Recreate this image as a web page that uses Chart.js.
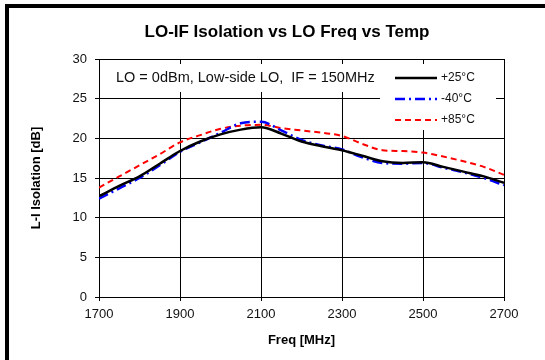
<!DOCTYPE html>
<html>
<head>
<meta charset="utf-8">
<script src="https://cdn.jsdelivr.net/npm/chart.js@4.4.1/dist/chart.umd.min.js"></script>
<style>
  html, body { margin: 0; padding: 0; background: #fff; }
  #wrap { width: 545px; height: 360px; }
</style>
</head>
<body>
<div id="wrap"><canvas id="isoChart" width="545" height="360"></canvas></div>
<script>
// LO-IF isolation readings
const freqs = [1700, 1750, 1800, 1850, 1900, 1950, 2000, 2050, 2100, 2150, 2200,
               2250, 2300, 2350, 2400, 2450, 2500, 2550, 2600, 2650, 2700];
const iso25 = [12.7, 14.0, 15.2, 16.8, 18.4, 19.6, 20.5, 21.1, 21.4, 20.6, 19.6,
               19.0, 18.5, 17.8, 17.1, 16.9, 17.0, 16.4, 15.8, 15.2, 14.4];
const isoM40 = [12.4, 13.7, 15.0, 16.6, 18.3, 19.5, 20.7, 21.9, 22.1, 21.0, 19.8,
                19.1, 18.6, 17.6, 16.9, 16.8, 16.9, 16.3, 15.7, 15.0, 14.1];
const iso85 = [13.8, 15.2, 16.6, 18.0, 19.5, 20.4, 21.2, 21.6, 21.7, 21.3, 21.0,
               20.7, 20.3, 19.3, 18.5, 18.4, 18.2, 17.7, 17.1, 16.4, 15.4];
const seriesLabels = ['+25°C', '-40°C', '+85°C'];
const xTicks = [1700, 1900, 2100, 2300, 2500, 2700];
const yTicks = [0, 5, 10, 15, 20, 25, 30];
const chartTitle = 'LO-IF Isolation vs LO Freq vs Temp';
const noteText = 'LO = 0dBm, Low-side LO,  IF = 150MHz';

const FONT = "Arial, 'Liberation Sans', sans-serif";

const pts = vals => vals.map((v, i) => ({x: freqs[i], y: v}));

// white page, frame (only left and top edges show) and the title
const framePlugin = {
  id: 'frame',
  beforeDraw(chart) {
    const ctx = chart.ctx;
    ctx.save();
    ctx.fillStyle = '#fff';
    ctx.fillRect(0, 0, chart.width, chart.height);
    ctx.strokeStyle = '#000';
    ctx.lineWidth = 4;
    ctx.strokeRect(7, 6, chart.width + 20, chart.height + 20);

    ctx.fillStyle = '#000';
    ctx.font = 'bold 17px ' + FONT;
    ctx.textAlign = 'center';
    ctx.textBaseline = 'middle';
    ctx.fillText(chartTitle, 287, 32);
    ctx.restore();
  }
};

// note text and legend sit inside the plot on white boxes
const boxesPlugin = {
  id: 'boxes',
  beforeDatasetsDraw(chart) {
    const ctx = chart.ctx;
    ctx.save();
    ctx.fillStyle = '#fff';
    ctx.fillRect(108, 64, 270, 28);
    ctx.fillRect(380, 64, 116, 66);

    ctx.fillStyle = '#111';
    ctx.font = '14.5px ' + FONT;
    ctx.textBaseline = 'middle';
    ctx.textAlign = 'left';
    ctx.fillText(noteText, 116, 78);

    const rows = [78, 99, 120];
    chart.data.datasets.forEach((ds, i) => {
      ctx.beginPath();
      ctx.strokeStyle = ds.borderColor;
      ctx.lineWidth = ds.borderWidth;
      ctx.setLineDash(ds.borderDash || []);
      ctx.moveTo(395, rows[i]);
      ctx.lineTo(437, rows[i]);
      ctx.stroke();
      ctx.setLineDash([]);
      ctx.font = '12px ' + FONT;
      ctx.fillStyle = '#111';
      ctx.fillText(ds.label, 441, rows[i]);
    });
    ctx.restore();
  }
};

new Chart(document.getElementById('isoChart'), {
  type: 'line',
  data: {
    datasets: [
      {label: seriesLabels[0], data: pts(iso25), borderColor: '#000', borderWidth: 2.5},
      {label: seriesLabels[1], data: pts(isoM40), borderColor: '#0000ff', borderWidth: 2.5, borderDash: [10, 4, 2, 4]},
      {label: seriesLabels[2], data: pts(iso85), borderColor: '#ff0000', borderWidth: 2, borderDash: [6, 4]}
    ]
  },
  options: {
    responsive: false,
    animation: false,
    events: [],
    elements: {
      point: {radius: 0},
      line: {cubicInterpolationMode: 'monotone', fill: false}
    },
    layout: {padding: {left: 0, right: 41, top: 59, bottom: 0}},
    plugins: {
      legend: {display: false},
      tooltip: {enabled: false},
      title: {display: false}
    },
    scales: {
      x: {
        type: 'linear',
        min: 1700,
        max: 2700,
        afterBuildTicks: s => { s.ticks = xTicks.map(v => ({value: v})); },
        afterFit: s => { s.height = 63; },
        grid: {color: '#000', lineWidth: 1, tickLength: 4, drawTicks: true},
        border: {color: '#000', width: 1},
        ticks: {
          color: '#111', font: {family: FONT, size: 13}, padding: 6, maxRotation: 0,
          callback: v => String(v)
        },
        title: {
          display: true,
          text: 'Freq [MHz]',
          color: '#000',
          font: {family: FONT, size: 13, weight: 'bold'},
          padding: {top: 0, bottom: 12}
        }
      },
      y: {
        min: 0,
        max: 30,
        afterBuildTicks: s => { s.ticks = yTicks.map(v => ({value: v})); },
        afterFit: s => { s.width = 99; },
        grid: {color: '#000', lineWidth: 1, tickLength: 4, drawTicks: true},
        border: {color: '#000', width: 1},
        ticks: {color: '#111', font: {family: FONT, size: 13}, padding: 8},
        title: {
          display: true,
          text: 'L-I Isolation [dB]',
          color: '#000',
          font: {family: FONT, size: 13, weight: 'bold'},
          padding: {top: 29, bottom: 0}
        }
      }
    }
  },
  plugins: [framePlugin, boxesPlugin]
});
</script>
</body>
</html>
